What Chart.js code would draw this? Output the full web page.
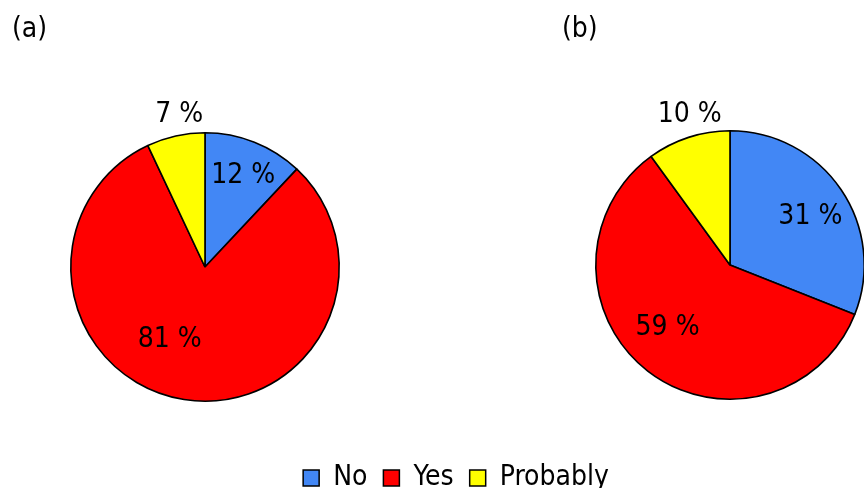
<!DOCTYPE html>
<html>
<head>
<meta charset="utf-8">
<script src="https://cdn.jsdelivr.net/npm/chart.js@4/dist/chart.umd.min.js"></script>
<style>
  html, body { margin: 0; padding: 0; background: #fff; overflow: hidden; }
  #wrap { position: relative; width: 864px; height: 488px; overflow: hidden; }
  canvas { position: absolute; }
</style>
</head>
<body>
<div id="wrap">
  <canvas id="pieA" style="left:0px;top:0px;width:410px;height:440px"></canvas>
  <canvas id="pieB" style="left:454px;top:0px;width:420px;height:440px"></canvas>
  <canvas id="leg" style="left:24px;top:448px;width:864px;height:140px"></canvas>
</div>
<script>
// data
const categories = ['No', 'Yes', 'Probably'];
const valuesA = [12, 81, 7];
const valuesB = [31, 59, 10];
const panelTitles = ['(a)', '(b)'];
const colors = ['#4287f5', '#ff0000', '#ffff00'];

const FONT = '"DejaVu Sans Condensed", "DejaVu Sans", sans-serif';

// where to put the % labels (fraction of radius, angle tweak in degrees)
const labelPosA = {r: [0.74, 0.6, 1.15], da: [1, 17, 3]};
const labelPosB = {r: [0.7, 0.66, 1.16], da: [3, 7, 3]};

const pctLabels = {
    id: 'pctLabels',
    afterDatasetsDraw(chart, args, opts) {
        const ctx = chart.ctx;
        const meta = chart.getDatasetMeta(0);
        const vals = chart.data.datasets[0].data;
        ctx.save();
        ctx.font = '28px ' + FONT;
        ctx.fillStyle = '#000';
        ctx.textAlign = 'center';
        ctx.textBaseline = 'middle';
        meta.data.forEach(function (arc, i) {
            var p = arc.getProps(['x', 'y', 'startAngle', 'endAngle', 'outerRadius'], true);
            var mid = (p.startAngle + p.endAngle) / 2 + opts.pos.da[i] * Math.PI / 180;
            var r = p.outerRadius * opts.pos.r[i];
            ctx.fillText(vals[i] + ' %', p.x + Math.cos(mid) * r, p.y + Math.sin(mid) * r);
        });
        // panel letter
        ctx.textAlign = 'left';
        ctx.fillText(opts.title, opts.tx, 30);
        ctx.restore();
    }
};

function makePie(id, values, pos, title, tx, pad) {
    var ctx = document.getElementById(id).getContext('2d');
    return new Chart(ctx, {
        type: 'pie',
        data: {
            labels: categories,
            datasets: [{
                data: values,
                backgroundColor: colors,
                borderColor: '#000',
                borderWidth: 1.6
            }]
        },
        options: {
            responsive: false,
            animation: false,
            layout: {padding: pad},
            plugins: {
                legend: {display: false},
                tooltip: {enabled: false},
                pctLabels: {pos: pos, title: title, tx: tx}
            }
        },
        plugins: [pctLabels]
    });
}

function sizeCanvas(id) {
    var c = document.getElementById(id);
    c.width = parseInt(c.style.width);
    c.height = parseInt(c.style.height);
}
['pieA', 'pieB', 'leg'].forEach(sizeCanvas);

makePie('pieA', valuesA, labelPosA, panelTitles[0], 12, {left: 70, right: 70, top: 132, bottom: 38});
makePie('pieB', valuesB, labelPosB, panelTitles[1], 108, {left: 141, right: 9, top: 130, bottom: 40});

// legend only chart
new Chart(document.getElementById('leg').getContext('2d'), {
    type: 'pie',
    data: {
        labels: categories,
        datasets: [{data: valuesA, backgroundColor: colors, borderColor: '#000', borderWidth: 1.5}]
    },
    options: {
        responsive: false,
        animation: false,
        radius: 0,
        plugins: {
            tooltip: {enabled: false},
            legend: {
                display: true,
                position: 'top',
                labels: {
                    color: '#000',
                    boxWidth: 16,
                    boxHeight: 16,
                    padding: 16,
                    font: {family: FONT, size: 28}
                }
            }
        }
    }
});
</script>
</body>
</html>
